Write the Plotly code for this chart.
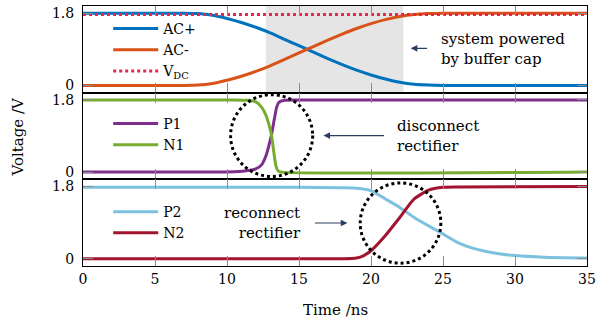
import plotly.graph_objects as go
from plotly.subplots import make_subplots

# ---------------- data ----------------
t_ac = [0, 5, 7, 8, 9, 10, 11, 12, 13, 14, 15, 16, 17, 18, 19, 20, 21, 22, 23, 24, 25, 30, 35]
ac_plus = [1.80, 1.80, 1.80, 1.79, 1.75, 1.67, 1.57, 1.45, 1.31, 1.15, 0.99, 0.83, 0.67,
           0.52, 0.38, 0.26, 0.16, 0.08, 0.03, 0.01, 0.0, 0.0, 0.0]
ac_minus = [0.0, 0.0, 0.0, 0.01, 0.05, 0.13, 0.23, 0.35, 0.49, 0.65, 0.81, 0.97, 1.13,
            1.28, 1.42, 1.54, 1.64, 1.72, 1.77, 1.79, 1.80, 1.80, 1.80]
t_vdc = [0, 35]
vdc = [1.77, 1.77]

t_p1 = [0, 9, 10.5, 11.5, 12.0, 12.4, 12.7, 12.9, 13.1, 13.3, 13.45, 13.6, 14, 15, 35]
p1 = [0.0, 0.0, 0.01, 0.04, 0.08, 0.18, 0.40, 0.65, 0.95, 1.35, 1.62, 1.74, 1.79, 1.80, 1.80]
t_n1 = [0, 10, 11.5, 12.0, 12.4, 12.7, 12.9, 13.1, 13.25, 13.4, 13.55, 13.8, 35]
n1 = [1.80, 1.80, 1.79, 1.75, 1.62, 1.42, 1.20, 0.90, 0.50, 0.15, 0.03, 0.0, 0.0]

t_p2 = [0, 15, 18, 19, 20, 21, 22, 23, 24, 24.8, 26, 27, 28, 29, 30, 32, 35]
p2 = [1.78, 1.78, 1.77, 1.76, 1.70, 1.49, 1.28, 1.03, 0.82, 0.66, 0.41, 0.27, 0.18,
      0.12, 0.08, 0.04, 0.02]
t_n2 = [0, 18, 19, 19.5, 20, 21, 22, 23, 24, 25, 26, 35]
n2 = [0.0, 0.0, 0.02, 0.08, 0.20, 0.58, 1.03, 1.49, 1.71, 1.78, 1.79, 1.80]

x_ticks = [0, 5, 10, 15, 20, 25, 30, 35]
y_ticks = [0, 1.8]
y_ticklabels = ["0", "1.8"]

shade_range = [12.7, 22.25]          # "system powered by buffer cap" interval
circle1 = dict(cx=13.1, cy=0.91, rx=2.85, ry=1.02)
circle2 = dict(cx=22.05, cy=0.89, rx=2.8, ry=1.0)

# ---------------- style ----------------
FONT = "DejaVu Serif"
FS = 15
C_ACP, C_ACM, C_VDC = "#0072BD", "#D95319", "#E8254F"
C_P1, C_N1 = "#7E2F8E", "#77AC30"
C_P2, C_N2 = "#7CC1DD", "#A2142F"
LW = 3

fig = make_subplots(rows=3, cols=1, shared_xaxes=True, vertical_spacing=0)

def add(x, y, name, color, row, legend, dash=None):
    fig.add_trace(go.Scatter(x=x, y=y, name=name, mode="lines",
                             line=dict(color=color, width=LW, dash=dash,
                                       shape="spline", smoothing=0.6),
                             legend=legend), row=row, col=1)

add(t_ac, ac_plus, "AC+", C_ACP, 1, "legend")
add(t_ac, ac_minus, "AC-", C_ACM, 1, "legend")
add(t_vdc, vdc, "V<sub>DC</sub>", C_VDC, 1, "legend", dash="dot")
add(t_p1, p1, "P1", C_P1, 2, "legend2")
add(t_n1, n1, "N1", C_N1, 2, "legend2")
add(t_p2, p2, "P2", C_P2, 3, "legend3")
add(t_n2, n2, "N2", C_N2, 3, "legend3")

# shaded interval in top panel
fig.add_shape(type="rect", xref="x", yref="y domain", x0=shade_range[0], x1=shade_range[1],
              y0=0, y1=1, fillcolor="#E5E5E5", line=dict(width=0), layer="below")

# dotted circles
for c, xr, yr in [(circle1, "x2", "y2"), (circle2, "x3", "y3")]:
    fig.add_shape(type="circle", xref=xr, yref=yr,
                  x0=c["cx"] - c["rx"], x1=c["cx"] + c["rx"],
                  y0=c["cy"] - c["ry"], y1=c["cy"] + c["ry"],
                  line=dict(color="black", width=3, dash="dot"))

# annotation texts + arrows
tfont = dict(family=FONT, size=FS, color="black")
lfont = dict(family=FONT, size=14, color="black")
kfont = dict(family=FONT, size=14, color="black")
fig.add_annotation(x=24.7, y=0.92, xref="x", yref="y", text="system powered<br>by buffer cap",
                   showarrow=False, xanchor="left", align="left", font=tfont)
fig.add_annotation(x=22.76, y=0.925, ax=24.0, ay=0.925, xref="x", yref="y", axref="x", ayref="y",
                   text="", showarrow=True, arrowhead=2, arrowsize=1.2, arrowwidth=1.1)
fig.add_annotation(x=21.7, y=0.91, xref="x2", yref="y2", text="disconnect<br>rectifier",
                   showarrow=False, xanchor="left", align="left", font=tfont)
fig.add_annotation(x=16.7, y=0.91, ax=21.0, ay=0.91, xref="x2", yref="y2", axref="x2", ayref="y2",
                   text="", showarrow=True, arrowhead=2, arrowsize=1.2, arrowwidth=1.1)
fig.add_annotation(x=15.25, y=0.9, xref="x3", yref="y3", text="reconnect<br>rectifier",
                   showarrow=False, xanchor="right", align="right", font=tfont)
fig.add_annotation(x=18.36, y=0.89, ax=16.0, ay=0.89, xref="x3", yref="y3", axref="x3", ayref="y3",
                   text="", showarrow=True, arrowhead=2, arrowsize=1.2, arrowwidth=1.1)

# axis titles
fig.add_annotation(x=-0.128, y=0.5, xref="paper", yref="paper", text="Voltage /V",
                   textangle=-90, showarrow=False, font=tfont, xanchor="center", yanchor="middle")
fig.add_annotation(x=0.5, y=-0.17, xref="paper", yref="paper", text="Time /ns",
                   showarrow=False, font=tfont, xanchor="center", yanchor="middle")

axis_common = dict(showline=True, linecolor="black", linewidth=1, mirror="all",
                   ticks="inside", ticklen=10, tickcolor="#8C8C8C", tickwidth=1,
                   showgrid=False, zeroline=False, tickfont=kfont, automargin=False)
for r in (1, 2, 3):
    fig.update_xaxes(range=[0, 35], tickvals=x_ticks, row=r, col=1, **axis_common)
    fig.update_yaxes(range=[-0.18, 1.98], tickvals=y_ticks, ticktext=y_ticklabels,
                     ticklabelstandoff=5, row=r, col=1, **axis_common)

leg_common = dict(bgcolor="rgba(0,0,0,0)", font=lfont, itemwidth=45,
                  xanchor="left", yanchor="top", tracegroupgap=0)
fig.update_layout(
    width=598, height=321,
    margin=dict(l=83, r=11, t=6, b=55, autoexpand=False),
    plot_bgcolor="white", paper_bgcolor="white",
    font=dict(family=FONT, size=FS, color="black"),
    legend=dict(x=0.05, y=0.973, **leg_common),
    legend2=dict(x=0.05, y=0.608, **leg_common),
    legend3=dict(x=0.05, y=0.269, **leg_common),
)

fig.write_html("out.html", config={"displayModeBar": False},
               post_script="document.body.style.margin='0px';")
